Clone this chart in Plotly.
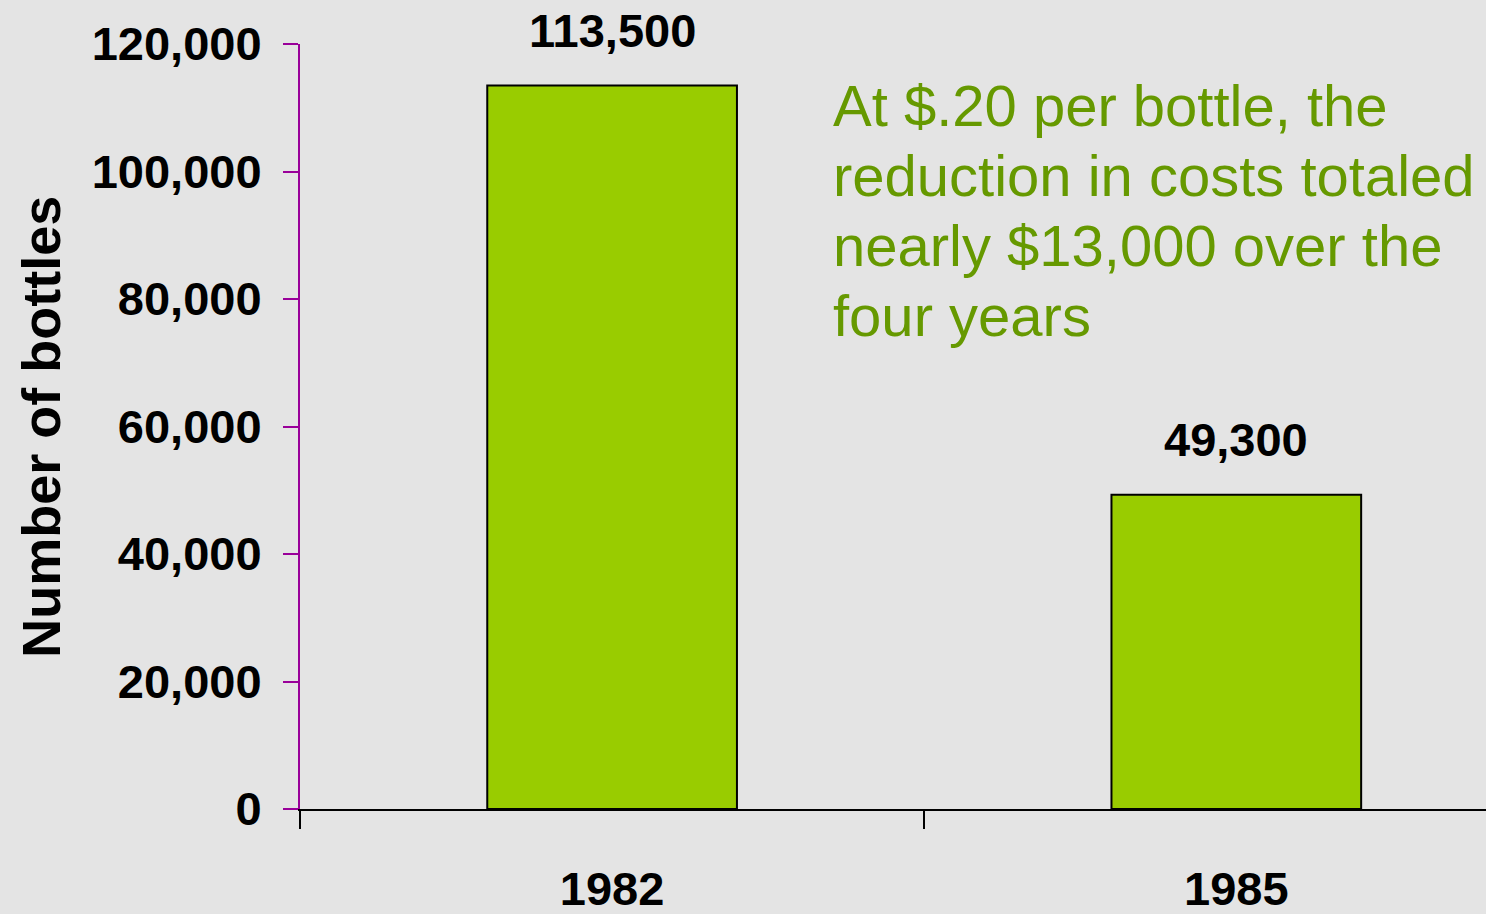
import plotly.graph_objects as go

# data
years = ["1982", "1985"]
bottles = [113500, 49300]
value_labels = ["113,500", "49,300"]
y_ticks = [0, 20000, 40000, 60000, 80000, 100000, 120000]
y_tick_text = ["0", "20,000", "40,000", "60,000", "80,000", "100,000", "120,000"]
note_lines = ["At $.20 per bottle, the",
              "reduction in costs totaled",
              "nearly $13,000 over the",
              "four years"]

FONT = "Liberation Sans, Arial, sans-serif"

fig = go.Figure(go.Bar(
    x=years, y=bottles, width=0.4,
    marker=dict(color="#99cc00", line=dict(color="black", width=2)),
))

# value labels above bars (category axis -> serial index of each category)
for i, (v, lab) in enumerate(zip(bottles, value_labels)):
    fig.add_annotation(x=i, y=v, xref="x", yref="y", text="<b>" + lab + "</b>",
                       showarrow=False, yshift=55, xanchor="center", yanchor="middle",
                       font=dict(family=FONT, size=47, color="black"))

# green note, one annotation per line for tighter spacing
for i, line in enumerate(note_lines):
    fig.add_annotation(xref="paper", yref="paper", x=0.448, y=0.920 - i * 0.0915,
                       xanchor="left", yanchor="middle", showarrow=False,
                       text=line, font=dict(family=FONT, size=58, color="#669900"))

# y axis title
fig.add_annotation(xref="paper", yref="paper", x=-0.219, y=0.5,
                   xanchor="center", yanchor="middle",
                   textangle=-90, showarrow=False,
                   text="<b>Number of bottles</b>",
                   font=dict(family=FONT, size=54, color="black"))

fig.update_layout(
    width=1486, height=914,
    margin=dict(l=300, r=0, t=44, b=105),
    paper_bgcolor="#e4e4e4", plot_bgcolor="#e4e4e4",
    showlegend=False,
    xaxis=dict(type="category", range=[-0.5, 1.4], tickson="boundaries", ticks="outside",
               ticklen=18, tickwidth=2, tickcolor="black",
               showline=True, linecolor="black", linewidth=2,
               showgrid=False, ticklabelstandoff=38,
               tickfont=dict(family=FONT, size=47, color="black", weight="bold")),
    yaxis=dict(range=[0, 120000], tickvals=y_ticks, ticktext=y_tick_text,
               ticks="outside", ticklen=15, tickwidth=2, tickcolor="#990099",
               showline=True, linecolor="#990099", linewidth=2,
               showgrid=False, zeroline=False, ticklabelstandoff=12,
               tickfont=dict(family=FONT, size=47, color="black", weight="bold")),
)

fig.write_html("out.html", config={"displayModeBar": False},
               post_script="document.body.style.margin='0';")
